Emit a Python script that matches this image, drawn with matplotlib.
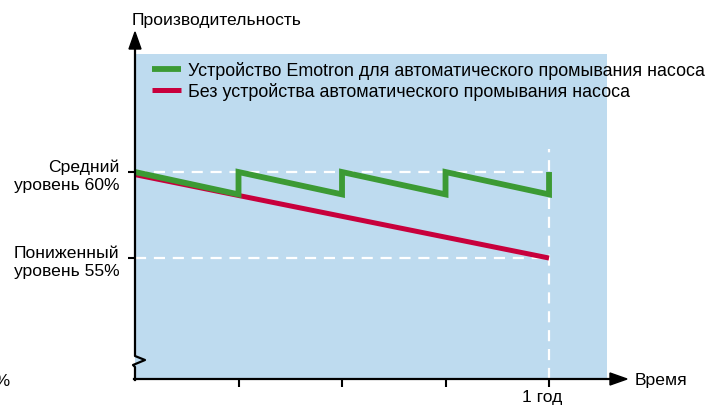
import matplotlib
matplotlib.use("Agg")
import matplotlib.pyplot as plt

plt.rcParams['font.family'] = ['Liberation Sans', 'DejaVu Sans']
FS = 12.6
FS_LEG = 12.9

# Data (time in quarters of a year, performance in %)
green_t = [0, 1, 1, 2, 2, 3, 3, 4, 4]
green_v = [60, 58.7, 60, 58.7, 60, 58.7, 60, 58.7, 60]
red_t = [0, 4]
red_v = [59.85, 55]
ytick_vals = [60, 55]
ytick_labels = ["Средний\nуровень 60%", "Пониженный\nуровень 55%"]
xtick_vals = [1, 2, 3, 4]
xtick_labels = ["", "", "", "1 год"]
legend_labels = ["Устройство Emotron для автоматического промывания насоса",
                 "Без устройства автоматического промывания насоса"]

W, H = 712, 406
fig = plt.figure(figsize=(W / 100, H / 100), dpi=100)

def fx(x):
    return x / W

def fy(y):
    return 1 - y / H

L, R, T, B = 135, 607, 55, 380
ax = fig.add_axes([fx(L), fy(B), fx(R) - fx(L), fy(T) - fy(B)])
ax.set_facecolor('#BEDBEF')
for s in ax.spines.values():
    s.set_visible(False)

ax.set_xlim(0, 4.56)
ax.set_ylim(47.97, 66.86)

WHITE = 'white'
dash = (0, (5, 3.5))
ax.plot([0, 4], [60, 60], color=WHITE, lw=1.6, ls=dash, zorder=1)
ax.plot([0, 4], [55, 55], color=WHITE, lw=1.6, ls=dash, zorder=1)
ax.plot([4, 4], [47.97, 61.35], color=WHITE, lw=1.6, ls=dash, zorder=1, clip_on=False)

RED = '#C8003C'
GREEN = '#3C9A34'
ax.plot(red_t, red_v, color=RED, lw=3.6, solid_capstyle='butt', zorder=2, label=legend_labels[1])
ax.plot(green_t, green_v, color=GREEN, lw=4.2, solid_capstyle='butt', solid_joinstyle='miter',
        zorder=3, label=legend_labels[0])

px_per_em = FS_LEG * 100 / 72
h, l = ax.get_legend_handles_labels()
leg = ax.legend([h[1], h[0]], [l[1], l[0]], loc='upper left',
                bbox_to_anchor=(fx(152), fy(62)), bbox_transform=fig.transFigure,
                frameon=False, fontsize=FS_LEG, handlelength=29 / px_per_em,
                handletextpad=7 / px_per_em, labelspacing=0.16, borderaxespad=0.0,
                borderpad=0.0)

ax.set_yticks(ytick_vals)
ax.set_yticklabels(ytick_labels, fontsize=FS, linespacing=1.25)
ax.set_xticks(xtick_vals)
ax.set_xticklabels(["" for _ in xtick_labels])
ax.tick_params(axis='y', direction='out', length=5, width=1.5, pad=6, color='black')
ax.tick_params(axis='x', direction='out', length=6, width=1.5, pad=2, color='black')
ax.annotate(xtick_labels[-1], xy=(xtick_vals[-1], 0), xycoords=('data', 'axes fraction'),
            xytext=(-7, -18), textcoords='offset pixels', ha='center', va='center',
            fontsize=FS, annotation_clip=False)

# Axis lines with break and arrowheads (figure coordinates)
tf = fig.transFigure
ax_pts_x = [135, 135, 145, 133, 135, 135]
ax_pts_y = [45, 357, 361, 366, 368, 381]
fig.add_artist(plt.Line2D([fx(x) for x in ax_pts_x], [fy(y) for y in ax_pts_y],
                          color='black', lw=1.6, transform=tf))
fig.add_artist(plt.Line2D([fx(134), fx(615)], [fy(380), fy(380)], color='black', lw=1.6,
                          transform=tf))
fig.add_artist(plt.Polygon([[fx(129), fy(50)], [fx(141), fy(50)], [fx(135), fy(33)]],
                           closed=True, color='black', transform=tf))
fig.add_artist(plt.Polygon([[fx(610), fy(374)], [fx(610), fy(386)], [fx(627), fy(380)]],
                           closed=True, color='black', transform=tf))

fig.text(fx(132), fy(20), "Производительность", fontsize=FS, ha='left', va='center')
fig.text(fx(635), fy(381), "Время", fontsize=FS, ha='left', va='center')
fig.text(fx(10), fy(382), "0%", fontsize=FS, ha='right', va='center')

fig.savefig('out.png', dpi=100)
